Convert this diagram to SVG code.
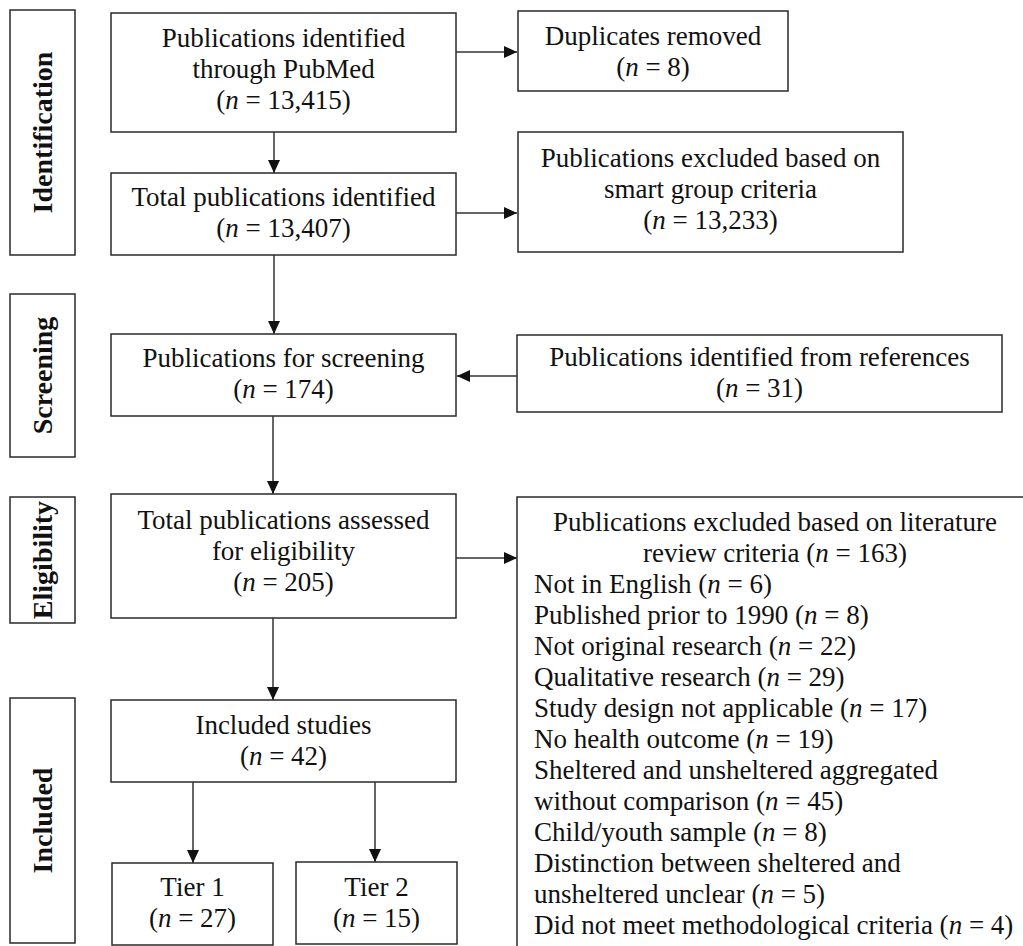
<svg xmlns="http://www.w3.org/2000/svg" width="1023" height="946" viewBox="0 0 1023 946">
<style>
.box{fill:#fff;stroke:#2a2a2a;stroke-width:1.5}
.t{font-family:"Liberation Serif","Times New Roman",serif;font-size:27px;fill:#111}
.c{text-anchor:middle}
.lab{font-family:"Liberation Serif","Times New Roman",serif;font-size:28px;font-weight:bold;fill:#111;text-anchor:middle}
.i{font-style:italic}
.con{stroke:#333;stroke-width:1.5;fill:none;marker-end:url(#ah)}
</style>
<defs>
<marker id="ah" markerUnits="userSpaceOnUse" markerWidth="14" markerHeight="14" viewBox="0 0 14 14" refX="13" refY="7" orient="auto">
<path d="M0,1 L13,7 L0,13 Z" fill="#111"/>
</marker>
</defs>
<rect width="1023" height="946" fill="#fff"/>

<g id="stage-identification"><rect class="box" x="10" y="10" width="65" height="245"/><text class="lab" transform="translate(52,132.5) rotate(-90)">Identification</text></g>
<g id="stage-screening"><rect class="box" x="10" y="294" width="65" height="163"/><text class="lab" transform="translate(52,375.5) rotate(-90)">Screening</text></g>
<g id="stage-eligibility"><rect class="box" x="10" y="497" width="65" height="126"/><text class="lab" transform="translate(52,560) rotate(-90)">Eligibility</text></g>
<g id="stage-included"><rect class="box" x="10" y="698" width="65" height="245"/><text class="lab" transform="translate(52,820.5) rotate(-90)">Included</text></g>

<g id="pubmed"><rect class="box" x="111" y="13" width="345" height="119"/>
<text class="t c" x="283.5" y="47">Publications identified</text>
<text class="t c" x="283.5" y="78">through PubMed</text>
<text class="t c" x="283.5" y="109">(<tspan class="i">n</tspan> = 13,415)</text></g>

<g id="duplicates"><rect class="box" x="518" y="11" width="270" height="80"/>
<text class="t c" x="653" y="45">Duplicates removed</text>
<text class="t c" x="653" y="76">(<tspan class="i">n</tspan> = 8)</text></g>

<g id="total"><rect class="box" x="111" y="173" width="345" height="82"/>
<text class="t c" x="283.5" y="206">Total publications identified</text>
<text class="t c" x="283.5" y="237">(<tspan class="i">n</tspan> = 13,407)</text></g>

<g id="smart"><rect class="box" x="518" y="132" width="385" height="120"/>
<text class="t c" x="710.5" y="167">Publications excluded based on</text>
<text class="t c" x="710.5" y="198">smart group criteria</text>
<text class="t c" x="710.5" y="229">(<tspan class="i">n</tspan> = 13,233)</text></g>

<g id="screening"><rect class="box" x="111" y="334" width="345" height="82"/>
<text class="t c" x="283.5" y="367">Publications for screening</text>
<text class="t c" x="283.5" y="398">(<tspan class="i">n</tspan> = 174)</text></g>

<g id="references"><rect class="box" x="517" y="335" width="485" height="77"/>
<text class="t c" x="759.5" y="366">Publications identified from references</text>
<text class="t c" x="759.5" y="397">(<tspan class="i">n</tspan> = 31)</text></g>

<g id="eligibility"><rect class="box" x="111" y="494" width="345" height="124"/>
<text class="t c" x="283.5" y="529">Total publications assessed</text>
<text class="t c" x="283.5" y="560">for eligibility</text>
<text class="t c" x="283.5" y="591">(<tspan class="i">n</tspan> = 205)</text></g>

<g id="excluded-lit"><rect class="box" x="517" y="497" width="520" height="470"/>
<text class="t c" x="775" y="531">Publications excluded based on literature</text>
<text class="t c" x="775" y="562">review criteria (<tspan class="i">n</tspan> = 163)</text>
<text class="t" x="534" y="593">Not in English (<tspan class="i">n</tspan> = 6)</text>
<text class="t" x="534" y="624">Published prior to 1990 (<tspan class="i">n</tspan> = 8)</text>
<text class="t" x="534" y="655">Not original research (<tspan class="i">n</tspan> = 22)</text>
<text class="t" x="534" y="686">Qualitative research (<tspan class="i">n</tspan> = 29)</text>
<text class="t" x="534" y="717">Study design not applicable (<tspan class="i">n</tspan> = 17)</text>
<text class="t" x="534" y="748">No health outcome (<tspan class="i">n</tspan> = 19)</text>
<text class="t" x="534" y="779">Sheltered and unsheltered aggregated</text>
<text class="t" x="534" y="810">without comparison (<tspan class="i">n</tspan> = 45)</text>
<text class="t" x="534" y="841">Child/youth sample (<tspan class="i">n</tspan> = 8)</text>
<text class="t" x="534" y="872">Distinction between sheltered and</text>
<text class="t" x="534" y="903">unsheltered unclear (<tspan class="i">n</tspan> = 5)</text>
<text class="t" x="534" y="934">Did not meet methodological criteria (<tspan class="i">n</tspan> = 4)</text></g>

<g id="included"><rect class="box" x="111" y="700" width="345" height="82"/>
<text class="t c" x="283.5" y="734">Included studies</text>
<text class="t c" x="283.5" y="765">(<tspan class="i">n</tspan> = 42)</text></g>

<g id="tier1"><rect class="box" x="112" y="863" width="161" height="82"/>
<text class="t c" x="192.5" y="896">Tier 1</text>
<text class="t c" x="192.5" y="927">(<tspan class="i">n</tspan> = 27)</text></g>

<g id="tier2"><rect class="box" x="296" y="862" width="161" height="82"/>
<text class="t c" x="376.5" y="896">Tier 2</text>
<text class="t c" x="376.5" y="927">(<tspan class="i">n</tspan> = 15)</text></g>

<g id="connectors">
<line class="con" x1="456" y1="52" x2="517" y2="52"/>
<line class="con" x1="274" y1="132" x2="274" y2="173"/>
<line class="con" x1="456" y1="213" x2="517" y2="213"/>
<line class="con" x1="274" y1="255" x2="274" y2="334"/>
<line class="con" x1="517" y1="376" x2="457" y2="376"/>
<line class="con" x1="273" y1="416" x2="273" y2="494"/>
<line class="con" x1="456" y1="558" x2="517" y2="558"/>
<line class="con" x1="273" y1="618" x2="273" y2="700"/>
<line class="con" x1="193" y1="782" x2="193" y2="863"/>
<line class="con" x1="375" y1="782" x2="375" y2="862"/>
</g>
</svg>
